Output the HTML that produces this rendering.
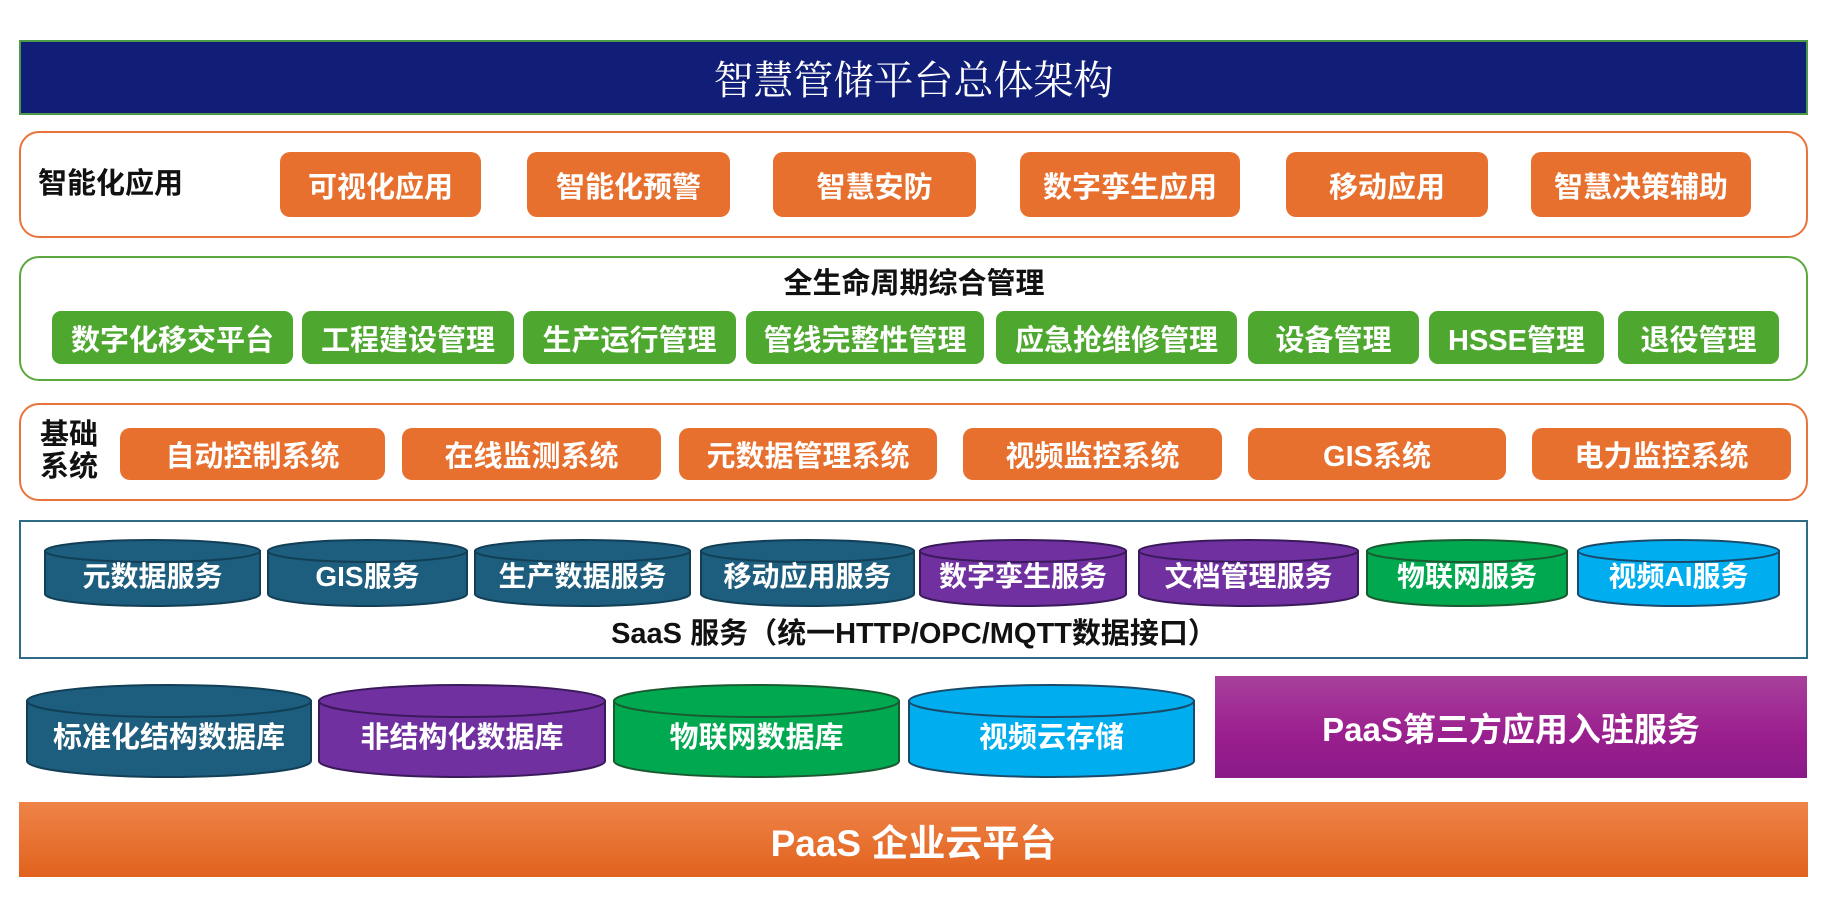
<!DOCTYPE html>
<html><head><meta charset="utf-8"><style>
*{margin:0;padding:0;box-sizing:border-box}
body{width:1828px;height:906px;background:#fff;position:relative;overflow:hidden;font-family:"Liberation Sans","Noto Sans CJK SC",sans-serif;font-weight:bold}
.a{position:absolute}
.box{position:absolute;border:2.5px solid #e8743b;border-radius:20px;background:#fff}
.ob{position:absolute;background:#e8702f;color:#fff;border-radius:10px;display:flex;align-items:center;justify-content:center;font-size:29px}
.gb{position:absolute;background:#4ea72e;color:#fff;border-radius:9px;display:flex;align-items:center;justify-content:center;font-size:29px}
.lbl{position:absolute;color:#111;font-size:29px;line-height:32px}
.cyl{position:absolute}
.cyl svg{position:absolute;left:0;top:0;overflow:visible}
.cyl span{position:absolute;left:0;right:0;text-align:center;color:#fff;line-height:34px;font-size:28px}
.r5 span{top:37px !important;font-size:29px}
</style></head><body>
<div class="a" style="left:19px;top:40px;width:1789px;height:75px;background:#101e78;border:2px solid #4a9a4a;color:#fff;font-family:'Liberation Serif','Noto Serif CJK SC',serif;font-weight:normal;font-size:40px;display:flex;align-items:center;justify-content:center">智慧管储平台总体架构</div>

<div class="box" style="left:19px;top:131px;width:1789px;height:107px"></div>
<div class="lbl" style="left:38px;top:168px">智能化应用</div>
<div class="ob" style="left:280px;top:152px;width:201px;height:65px">可视化应用</div>
<div class="ob" style="left:527px;top:152px;width:203px;height:65px">智能化预警</div>
<div class="ob" style="left:773px;top:152px;width:203px;height:65px">智慧安防</div>
<div class="ob" style="left:1020px;top:152px;width:220px;height:65px">数字孪生应用</div>
<div class="ob" style="left:1286px;top:152px;width:202px;height:65px">移动应用</div>
<div class="ob" style="left:1531px;top:152px;width:220px;height:65px">智慧决策辅助</div>

<div class="box" style="left:19px;top:256px;width:1789px;height:125px;border-color:#5aa83e"></div>
<div class="lbl" style="left:0;width:1828px;text-align:center;top:268px">全生命周期综合管理</div>
<div class="gb" style="left:52px;top:311px;width:241px;height:53px">数字化移交平台</div>
<div class="gb" style="left:302px;top:311px;width:212px;height:53px">工程建设管理</div>
<div class="gb" style="left:523px;top:311px;width:213px;height:53px">生产运行管理</div>
<div class="gb" style="left:746px;top:311px;width:238px;height:53px">管线完整性管理</div>
<div class="gb" style="left:996px;top:311px;width:241px;height:53px">应急抢维修管理</div>
<div class="gb" style="left:1248px;top:311px;width:171px;height:53px">设备管理</div>
<div class="gb" style="left:1429px;top:311px;width:175px;height:53px">HSSE管理</div>
<div class="gb" style="left:1618px;top:311px;width:161px;height:53px">退役管理</div>

<div class="box" style="left:19px;top:403px;width:1789px;height:98px"></div>
<div class="lbl" style="left:40px;top:419px">基础<br>系统</div>
<div class="ob" style="left:120px;top:428px;width:265px;height:52px">自动控制系统</div>
<div class="ob" style="left:402px;top:428px;width:259px;height:52px">在线监测系统</div>
<div class="ob" style="left:679px;top:428px;width:258px;height:52px">元数据管理系统</div>
<div class="ob" style="left:963px;top:428px;width:259px;height:52px">视频监控系统</div>
<div class="ob" style="left:1248px;top:428px;width:258px;height:52px">GIS系统</div>
<div class="ob" style="left:1532px;top:428px;width:259px;height:52px">电力监控系统</div>

<div class="a" style="left:19px;top:520px;width:1789px;height:139px;border:2.5px solid #2e6b86"></div>
<div class="lbl" style="left:0;width:1828px;text-align:center;top:618px">SaaS 服务（统一HTTP/OPC/MQTT数据接口）</div>

<div class="cyl" style="left:44px;top:539px;width:217px;height:67px"><svg width="217" height="67"><path d="M1,12 V55 A107.5,12 0 0 0 216,55 V12 Z" fill="#1d5d7d" stroke="#123f56" stroke-width="2"/><ellipse cx="108.5" cy="12" rx="107.5" ry="11" fill="#1d5d7d" stroke="#123f56" stroke-width="2"/></svg><span style="top:21px">元数据服务</span></div>
<div class="cyl" style="left:267px;top:539px;width:201px;height:67px"><svg width="201" height="67"><path d="M1,12 V55 A99.5,12 0 0 0 200,55 V12 Z" fill="#1d5d7d" stroke="#123f56" stroke-width="2"/><ellipse cx="100.5" cy="12" rx="99.5" ry="11" fill="#1d5d7d" stroke="#123f56" stroke-width="2"/></svg><span style="top:21px">GIS服务</span></div>
<div class="cyl" style="left:474px;top:539px;width:217px;height:67px"><svg width="217" height="67"><path d="M1,12 V55 A107.5,12 0 0 0 216,55 V12 Z" fill="#1d5d7d" stroke="#123f56" stroke-width="2"/><ellipse cx="108.5" cy="12" rx="107.5" ry="11" fill="#1d5d7d" stroke="#123f56" stroke-width="2"/></svg><span style="top:21px">生产数据服务</span></div>
<div class="cyl" style="left:700px;top:539px;width:215px;height:67px"><svg width="215" height="67"><path d="M1,12 V55 A106.5,12 0 0 0 214,55 V12 Z" fill="#1d5d7d" stroke="#123f56" stroke-width="2"/><ellipse cx="107.5" cy="12" rx="106.5" ry="11" fill="#1d5d7d" stroke="#123f56" stroke-width="2"/></svg><span style="top:21px">移动应用服务</span></div>
<div class="cyl" style="left:919px;top:539px;width:208px;height:67px"><svg width="208" height="67"><path d="M1,12 V55 A103,12 0 0 0 207,55 V12 Z" fill="#7030a0" stroke="#3a1a5a" stroke-width="2"/><ellipse cx="104" cy="12" rx="103" ry="11" fill="#7030a0" stroke="#3a1a5a" stroke-width="2"/></svg><span style="top:21px">数字孪生服务</span></div>
<div class="cyl" style="left:1138px;top:539px;width:221px;height:67px"><svg width="221" height="67"><path d="M1,12 V55 A109.5,12 0 0 0 220,55 V12 Z" fill="#7030a0" stroke="#3a1a5a" stroke-width="2"/><ellipse cx="110.5" cy="12" rx="109.5" ry="11" fill="#7030a0" stroke="#3a1a5a" stroke-width="2"/></svg><span style="top:21px">文档管理服务</span></div>
<div class="cyl" style="left:1366px;top:539px;width:202px;height:67px"><svg width="202" height="67"><path d="M1,12 V55 A100,12 0 0 0 201,55 V12 Z" fill="#00a84f" stroke="#1a5a30" stroke-width="2"/><ellipse cx="101" cy="12" rx="100" ry="11" fill="#00a84f" stroke="#1a5a30" stroke-width="2"/></svg><span style="top:21px">物联网服务</span></div>
<div class="cyl" style="left:1577px;top:539px;width:203px;height:67px"><svg width="203" height="67"><path d="M1,12 V55 A100.5,12 0 0 0 202,55 V12 Z" fill="#00aeef" stroke="#1a4a6a" stroke-width="2"/><ellipse cx="101.5" cy="12" rx="100.5" ry="11" fill="#00aeef" stroke="#1a4a6a" stroke-width="2"/></svg><span style="top:21px">视频AI服务</span></div>

<div class="cyl r5" style="left:26px;top:684px;width:286px;height:94px"><svg width="286" height="94"><path d="M1,17 V77 A142,16 0 0 0 285,77 V17 Z" fill="#1d5d7d" stroke="#123f56" stroke-width="2"/><ellipse cx="143" cy="17" rx="142" ry="16" fill="#1d5d7d" stroke="#123f56" stroke-width="2"/></svg><span>标准化结构数据库</span></div>
<div class="cyl r5" style="left:318px;top:684px;width:288px;height:94px"><svg width="288" height="94"><path d="M1,17 V77 A143,16 0 0 0 287,77 V17 Z" fill="#7030a0" stroke="#3a1a5a" stroke-width="2"/><ellipse cx="144" cy="17" rx="143" ry="16" fill="#7030a0" stroke="#3a1a5a" stroke-width="2"/></svg><span>非结构化数据库</span></div>
<div class="cyl r5" style="left:613px;top:684px;width:287px;height:94px"><svg width="287" height="94"><path d="M1,17 V77 A142.5,16 0 0 0 286,77 V17 Z" fill="#00a84f" stroke="#1a5a30" stroke-width="2"/><ellipse cx="143.5" cy="17" rx="142.5" ry="16" fill="#00a84f" stroke="#1a5a30" stroke-width="2"/></svg><span>物联网数据库</span></div>
<div class="cyl r5" style="left:908px;top:684px;width:287px;height:94px"><svg width="287" height="94"><path d="M1,17 V77 A142.5,16 0 0 0 286,77 V17 Z" fill="#00aeef" stroke="#1a4a6a" stroke-width="2"/><ellipse cx="143.5" cy="17" rx="142.5" ry="16" fill="#00aeef" stroke="#1a4a6a" stroke-width="2"/></svg><span>视频云存储</span></div>

<div class="a" style="left:1215px;top:676px;width:592px;height:102px;background:linear-gradient(#a8409c,#9a1e8e 60%,#8a1a88);color:#fff;font-size:33px;display:flex;align-items:center;justify-content:center">PaaS第三方应用入驻服务</div>

<div class="a" style="left:19px;top:802px;width:1789px;height:75px;background:linear-gradient(#ee8448,#e2621e);color:#fff;font-size:37px;display:flex;align-items:center;justify-content:center">PaaS 企业云平台</div>
</body></html>
